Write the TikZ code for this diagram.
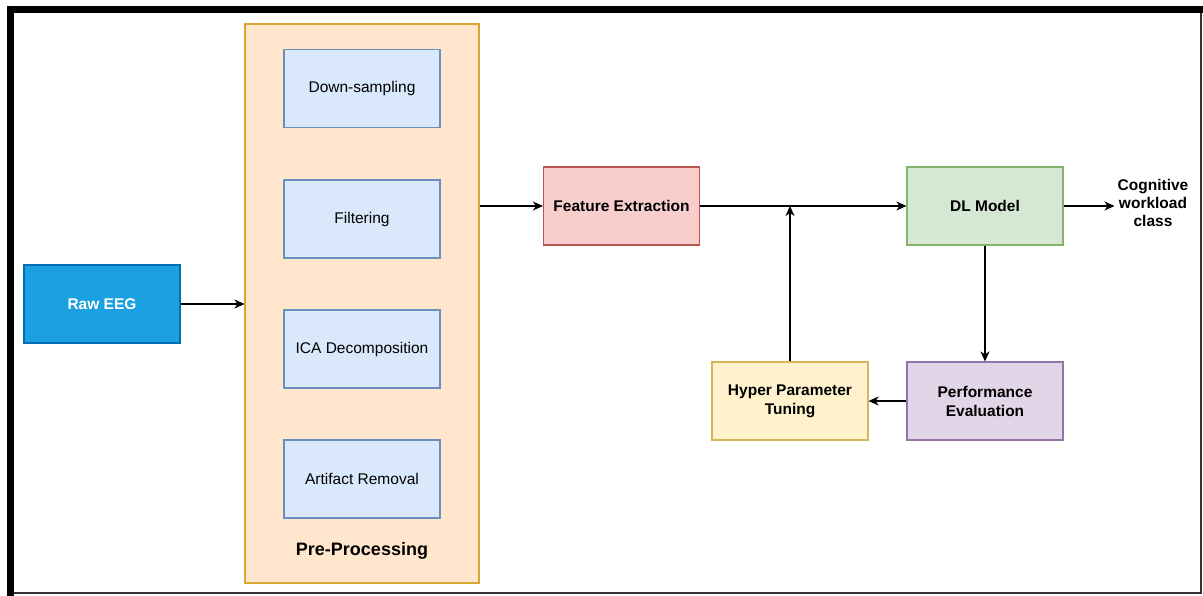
\documentclass[tikz,border=0pt]{standalone}
\usepackage{fontspec}
\setmainfont{Liberation Sans}
\usetikzlibrary{arrows.meta}
\definecolor{eegfill}{HTML}{1BA1E2}
\definecolor{eegline}{HTML}{006EAF}
\definecolor{prefill}{HTML}{FFE6CC}
\definecolor{preline}{HTML}{D9A62E}
\definecolor{stepfill}{HTML}{DAE8FC}
\definecolor{stepline}{HTML}{6C8EBF}
\definecolor{featfill}{HTML}{F8CECC}
\definecolor{featline}{HTML}{B85450}
\definecolor{dlfill}{HTML}{D5E8D4}
\definecolor{dlline}{HTML}{82B366}
\definecolor{perffill}{HTML}{E1D5E7}
\definecolor{perfline}{HTML}{9673A6}
\definecolor{tunefill}{HTML}{FFF2CC}
\definecolor{tuneline}{HTML}{D6B656}
\tikzset{
  box/.style={draw, line width=1.2pt, minimum width=156pt, minimum height=78pt, align=center},
  stepbox/.style={box, fill=stepfill, draw=stepline},
  bold/.style={font=\fontsize{15.5}{19}\selectfont\bfseries},
  link/.style={->, line width=1.3pt}
}
\begin{document}
\begin{tikzpicture}[>={Stealth[length=10pt,width=9pt,inset=3pt]}, x=1pt, y=-1pt, font=\fontsize{15.5}{19}\selectfont]
\useasboundingbox (0,0) rectangle (1203,595);
\fill[white] (0,0) rectangle (1203,595);
\draw[line width=2.5pt, black!80] (10.5,9.5) rectangle (1201,593);
\draw[line width=7pt] (10.5,597) -- (10.5,9.5) -- (1203,9.5);
\node (pre) [draw=preline, fill=prefill, line width=1.2pt, minimum width=234pt, minimum height=559pt] at (362,303.5) {};
\node (down) [stepbox] at (362,88.5) {Down-sampling};
\node (filt) [stepbox] at (362,219) {Filtering};
\node (ica) [stepbox] at (362,349) {ICA Decomposition};
\node (art) [stepbox] at (362,479) {Artifact Removal};
\node (prelab) [font=\fontsize{18}{22}\selectfont\bfseries] at (362,551) {Pre-Processing};
\node (raw) [box, bold, fill=eegfill, draw=eegline, text=white] at (102,304) {Raw EEG};
\node (feat) [box, bold, fill=featfill, draw=featline] at (621.5,206) {Feature Extraction};
\node (dl) [box, bold, fill=dlfill, draw=dlline] at (985,206) {DL Model};
\node (perf) [box, bold, fill=perffill, draw=perfline] at (985,401) {Performance\\Evaluation};
\node (tune) [box, bold, fill=tunefill, draw=tuneline] at (790,401) {Hyper Parameter\\Tuning};
\node (cls) [bold, align=center, inner xsep=3pt, font=\fontsize{15.5}{18}\selectfont\bfseries] at (1153,203) {Cognitive\\workload\\class};
\draw[link] (raw) -- (raw -| pre.west);
\draw[link] (pre.east |- feat) -- (feat);
\draw[link] (feat) -- (dl);
\draw[link] (dl) -- (dl.east -| cls.west);
\draw[link] (dl) -- (perf);
\draw[link] (perf) -- (tune);
\draw[link] (tune) -- (tune |- feat.east);
\end{tikzpicture}
\end{document}
